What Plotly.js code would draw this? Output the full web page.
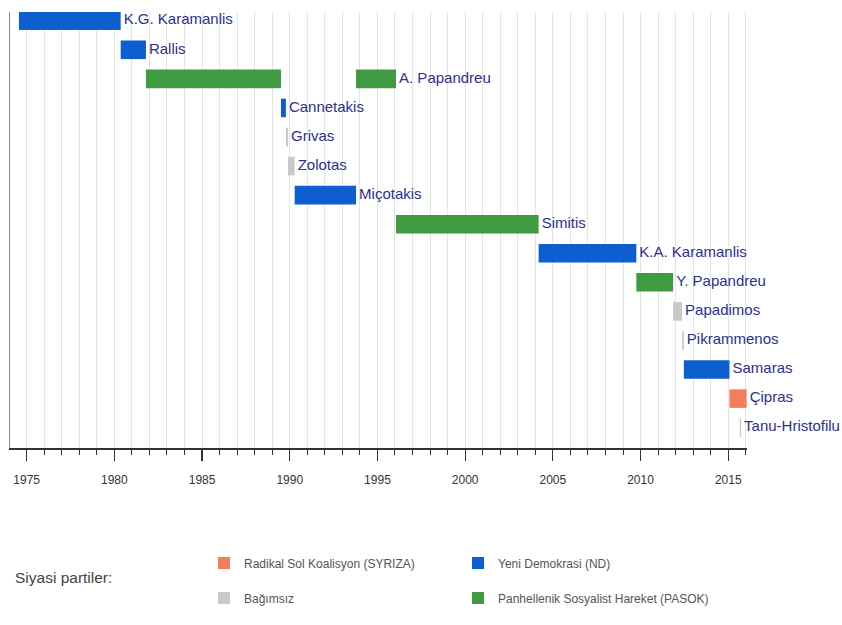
<!DOCTYPE html>
<html>
<head>
<meta charset="utf-8">
<script src="https://cdn.plot.ly/plotly-3.0.1.min.js"></script>
<style>html,body{margin:0;padding:0;background:#fff;}#chart{width:842px;height:625px;}</style>
</head>
<body>
<div id="chart"></div>
<script>
// Rows (top to bottom)
var rowNames = ["K.G. Karamanlis", "Rallis", "A. Papandreu", "Cannetakis", "Grivas", "Zolotas", "Miçotakis", "Simitis", "K.A. Karamanlis", "Y. Papandreu", "Papadimos", "Pikrammenos", "Samaras", "Çipras", "Tanu-Hristofilu"];

// Terms of office
var termLeader = ["K.G. Karamanlis", "Rallis", "A. Papandreu", "Cannetakis", "Grivas", "Zolotas", "Miçotakis", "A. Papandreu", "Simitis", "K.A. Karamanlis", "Y. Papandreu", "Papadimos", "Pikrammenos", "Samaras", "Çipras", "Tanu-Hristofilu"];
var termStart = [1974.56, 1980.36, 1981.80, 1989.50, 1989.78, 1989.90, 1990.28, 1993.78, 1996.06, 2004.19, 2009.76, 2011.86, 2012.37, 2012.47, 2015.07, 2015.66];
var termEnd   = [1980.36, 1981.80, 1989.50, 1989.78, 1989.90, 1990.28, 1993.78, 1996.06, 2004.19, 2009.76, 2011.86, 2012.37, 2012.47, 2015.07, 2016.05, 2015.73];
var termParty = ["ND", "ND", "PASOK", "ND", "IND", "IND", "ND", "PASOK", "PASOK", "ND", "PASOK", "IND", "IND", "ND", "SYRIZA", "IND"];

// Parties (legend order)
var partyKeys   = ["SYRIZA", "ND", "IND", "PASOK"];
var partyNames  = ["Radikal Sol Koalisyon (SYRIZA)", "Yeni Demokrasi (ND)", "Bağımsız", "Panhellenik Sosyalist Hareket (PASOK)"];
var partyColors = ["#f47d5d", "#0d5fcf", "#c9c9c9", "#3f9a41"];
var partyLegend = ["legend", "legend", "legend2", "legend2"];

// Axis ticks
var tickYears = [1975, 1980, 1985, 1990, 1995, 2000, 2005, 2010, 2015];

var FONT = "Liberation Sans, Arial, sans-serif";

var traces = [];
partyKeys.forEach(function (key, pi) {
  var ys = [], bases = [], lens = [];
  for (var i = 0; i < termLeader.length; i++) {
    if (termParty[i] === key) {
      ys.push(termLeader[i]);
      bases.push(termStart[i]);
      lens.push(termEnd[i] - termStart[i]);
    }
  }
  traces.push({
    type: "bar",
    orientation: "h",
    name: partyNames[pi],
    y: ys,
    x: lens,
    base: bases,
    width: 0.64,
    marker: { color: partyColors[pi], line: { width: 0 } },
    legend: partyLegend[pi],
    hoverinfo: "skip"
  });
});

// Labels at the end of the last term of each row
var labX = [], labY = [];
rowNames.forEach(function (name) {
  var endV = null;
  for (var i = 0; i < termLeader.length; i++) {
    if (termLeader[i] === name) endV = termEnd[i];
  }
  labX.push(endV);
  labY.push(name);
});
traces.push({
  type: "scatter",
  mode: "text",
  x: labX,
  y: labY,
  text: rowNames.map(function (n) { return "\u2009" + n; }),
  textposition: "middle right",
  textfont: { family: FONT, size: 15, color: "#2d2f8f" },
  cliponaxis: false,
  showlegend: false,
  hoverinfo: "skip"
});

var layout = {
  width: 842,
  height: 625,
  margin: { l: 10, r: 95, t: 12, b: 177 },
  paper_bgcolor: "#ffffff",
  plot_bgcolor: "#ffffff",
  barmode: "overlay",
  showlegend: true,
  font: { family: FONT, color: "#333" },
  xaxis: {
    range: [1974.05, 2016.07],
    tickvals: tickYears,
    ticktext: tickYears.map(String),
    ticks: "outside",
    ticklen: 11,
    tickwidth: 1.2,
    tickcolor: "#333",
    showgrid: true,
    gridcolor: "#e4e4e4",
    gridwidth: 1,
    showline: true,
    linecolor: "#333",
    linewidth: 1.6,
    zeroline: false,
    tickfont: { family: FONT, size: 12, color: "#333" },
    ticklabelstandoff: 9,
    minor: { dtick: 1, tick0: 1975, ticks: "outside", ticklen: 5, tickcolor: "#333", tickwidth: 1, showgrid: true, gridcolor: "#e4e4e4", gridwidth: 1 },
    fixedrange: true
  },
  yaxis: {
    type: "category",
    categoryorder: "array",
    categoryarray: rowNames,
    range: [14.7, -0.3],
    autorange: false,
    showticklabels: false,
    ticks: "",
    showgrid: false,
    zeroline: false,
    showline: true,
    linecolor: "#8a8a8a",
    linewidth: 1.5,
    fixedrange: true
  },
  legend: {
    orientation: "h",
    xref: "container", yref: "container",
    x: 0.2423, xanchor: "left",
    y: 1 - 563 / 625, yanchor: "middle",
    entrywidth: 209, entrywidthmode: "pixels",
    font: { family: FONT, size: 12, color: "#555" },
    bgcolor: "rgba(0,0,0,0)", borderwidth: 0,
    traceorder: "normal"
  },
  legend2: {
    orientation: "h",
    xref: "container", yref: "container",
    x: 0.2423, xanchor: "left",
    y: 1 - 598 / 625, yanchor: "middle",
    entrywidth: 209, entrywidthmode: "pixels",
    font: { family: FONT, size: 12, color: "#555" },
    bgcolor: "rgba(0,0,0,0)", borderwidth: 0,
    traceorder: "normal"
  },
  annotations: [{
    text: "Siyasi partiler:",
    xref: "paper", yref: "paper",
    x: 0.004, y: (448 - 577) / 436,
    xanchor: "left", yanchor: "middle",
    showarrow: false,
    font: { family: FONT, size: 15.5, color: "#444" }
  }]
};

Plotly.newPlot("chart", traces, layout, { displayModeBar: false, staticPlot: true });
</script>
</body>
</html>
